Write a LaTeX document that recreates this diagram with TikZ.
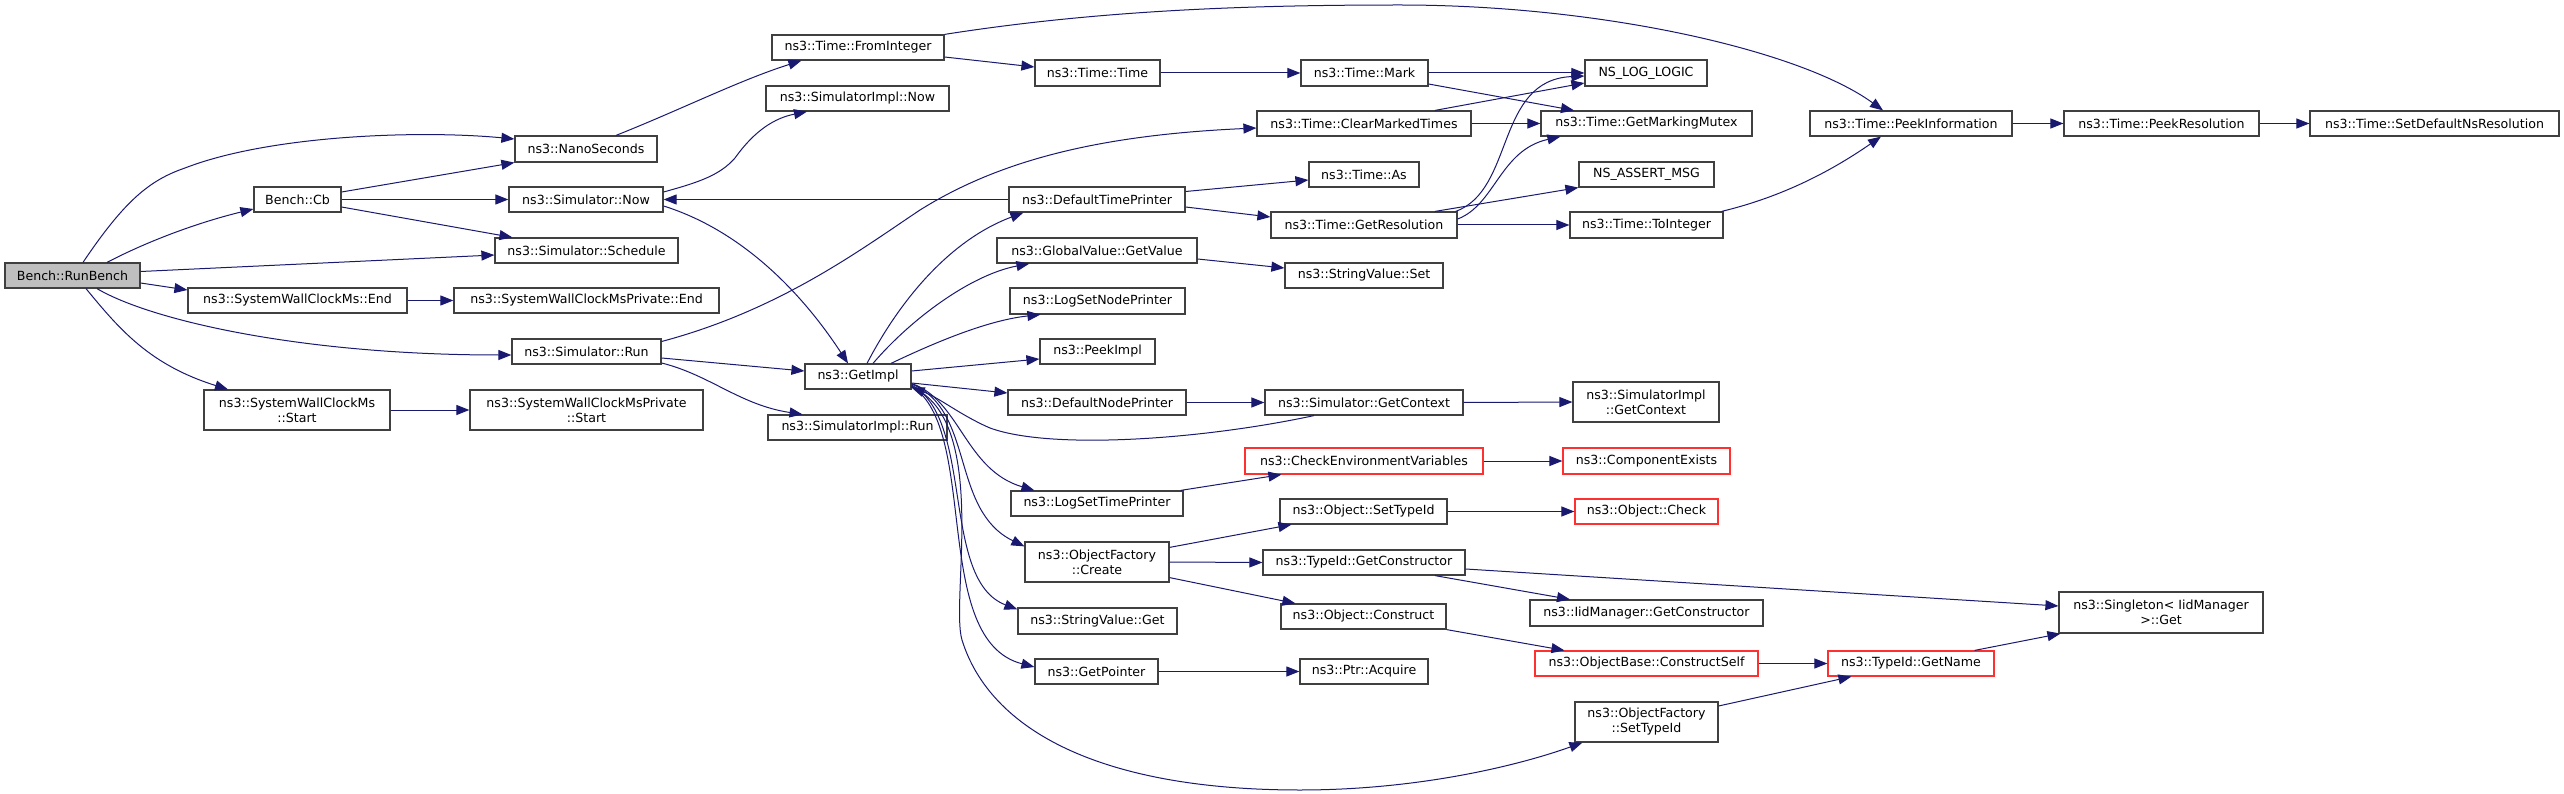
\documentclass[tikz,border=0pt]{standalone}
\usepackage{fontspec}
\setmainfont{DejaVu Sans}
\usetikzlibrary{arrows.meta}
\definecolor{edgec}{HTML}{191970}
\definecolor{nborder}{HTML}{404040}
\definecolor{nred}{HTML}{FF3030}
\definecolor{rootfill}{HTML}{BFBFBF}
\newcommand\nfnt{\fontsize{12.6}{15}\selectfont}
\tikzset{
  fn/.style={draw=nborder, line width=1.2pt, fill=white, inner sep=0pt, minimum height=25pt, font=\nfnt, align=center},
  fnred/.style={fn, draw=nred},
  fnroot/.style={fn, fill=rootfill},
  e/.style={draw=edgec, line width=1pt, -{Triangle[length=13pt,width=10pt]}}
}
\begin{document}
\begin{tikzpicture}[x=1pt,y=-1pt]
\useasboundingbox (0,0) rectangle (2564,794);
% column 1-3
\node[fnroot, minimum width=135pt] (runbench) at (72.5,275.5) {Bench::RunBench};
\node[fn, minimum width=142pt, minimum height=26pt] (nano) at (586,149) {ns3::NanoSeconds};
\node[fn, minimum width=87pt] (cb) at (297.5,199.5) {Bench::Cb};
\node[fn, minimum width=154pt] (simnow) at (586,199.5) {ns3::Simulator::Now};
\node[fn, minimum width=183pt] (schedule) at (586.5,250.5) {ns3::Simulator::Schedule};
\node[fn, minimum width=219pt] (swcend) at (297.5,300.5) {ns3::SystemWallClockMs::End};
\node[fn, minimum width=265pt] (swcpend) at (586.5,300.5) {ns3::SystemWallClockMsPrivate::End};
\node[fn, minimum width=149pt] (simrun) at (586.5,351.5) {ns3::Simulator::Run};
\node[fn, minimum width=186pt, minimum height=40pt] (swcstart) at (297,410) {ns3::SystemWallClockMs\\::Start};
\node[fn, minimum width=233pt, minimum height=40pt] (swcpstart) at (586.5,410) {ns3::SystemWallClockMsPrivate\\::Start};
% column 4
\node[fn, minimum width=172pt] (fromint) at (858,47.5) {ns3::Time::FromInteger};
\node[fn, minimum width=183pt] (simimplnow) at (857.5,98.5) {ns3::SimulatorImpl::Now};
\node[fn, minimum width=106pt] (getimpl) at (858,376.5) {ns3::GetImpl};
\node[fn, minimum width=179pt] (simimplrun) at (857.5,427.5) {ns3::SimulatorImpl::Run};
% column 5
\node[fn, minimum width=125pt, minimum height=26pt] (timetime) at (1097.5,73) {ns3::Time::Time};
\node[fn, minimum width=176pt] (dtp) at (1097,199.5) {ns3::DefaultTimePrinter};
\node[fn, minimum width=200pt] (gvgetvalue) at (1097,250.5) {ns3::GlobalValue::GetValue};
\node[fn, minimum width=175pt, minimum height=26pt] (lsnp) at (1097.5,301) {ns3::LogSetNodePrinter};
\node[fn, minimum width=115pt] (peekimpl) at (1097.5,351.5) {ns3::PeekImpl};
\node[fn, minimum width=178pt] (dnp) at (1097,402.5) {ns3::DefaultNodePrinter};
\node[fn, minimum width=172pt] (lstp) at (1097,503.5) {ns3::LogSetTimePrinter};
\node[fn, minimum width=144pt, minimum height=40pt] (ofcreate) at (1097,562) {ns3::ObjectFactory\\::Create};
\node[fn, minimum width=159pt, minimum height=26pt] (svget) at (1097.5,621) {ns3::StringValue::Get};
\node[fn, minimum width=123pt] (getpointer) at (1096.5,671.5) {ns3::GetPointer};
% column 6
\node[fn, minimum width=127pt, minimum height=26pt] (mark) at (1364.5,73) {ns3::Time::Mark};
\node[fn, minimum width=214pt] (clearmarked) at (1364,123.5) {ns3::Time::ClearMarkedTimes};
\node[fn, minimum width=110pt] (timeas) at (1364,174.5) {ns3::Time::As};
\node[fn, minimum width=186pt, minimum height=26pt] (getres) at (1364,225) {ns3::Time::GetResolution};
\node[fn, minimum width=158pt] (svset) at (1364,275.5) {ns3::StringValue::Set};
\node[fn, minimum width=198pt] (simgetctx) at (1364,402.5) {ns3::Simulator::GetContext};
\node[fnred, minimum width=238pt, minimum height=26pt] (checkenv) at (1364,461) {ns3::CheckEnvironmentVariables};
\node[fn, minimum width=167pt] (objsettypeid) at (1363.5,511.5) {ns3::Object::SetTypeId};
\node[fn, minimum width=202pt] (getctor) at (1364,562.5) {ns3::TypeId::GetConstructor};
\node[fn, minimum width=165pt] (objconstruct) at (1363.5,616.5) {ns3::Object::Construct};
\node[fn, minimum width=128pt] (acquire) at (1364,671.5) {ns3::Ptr::Acquire};
% column 7
\node[fn, minimum width=122pt, minimum height=26pt] (nslog) at (1646,73) {NS\_LOG\_LOGIC};
\node[fn, minimum width=211pt] (markmutex) at (1646.5,123.5) {ns3::Time::GetMarkingMutex};
\node[fn, minimum width=135pt] (nsassert) at (1646.5,174.5) {NS\_ASSERT\_MSG};
\node[fn, minimum width=153pt, minimum height=26pt] (tointeger) at (1646.5,225) {ns3::Time::ToInteger};
\node[fn, minimum width=146pt, minimum height=40pt] (simimplgetctx) at (1646,402) {ns3::SimulatorImpl\\::GetContext};
\node[fnred, minimum width=167pt, minimum height=26pt] (compexists) at (1646.5,461) {ns3::ComponentExists};
\node[fnred, minimum width=143pt] (objcheck) at (1646.5,511.5) {ns3::Object::Check};
\node[fn, minimum width=233pt, minimum height=26pt] (iidgetctor) at (1646.5,613) {ns3::IidManager::GetConstructor};
\node[fnred, minimum width=223pt] (constructself) at (1646.5,663.5) {ns3::ObjectBase::ConstructSelf};
\node[fn, minimum width=143pt, minimum height=40pt] (ofsettypeid) at (1646.5,722) {ns3::ObjectFactory\\::SetTypeId};
% column 8-10
\node[fn, minimum width=202pt] (peekinfo) at (1911,123.5) {ns3::Time::PeekInformation};
\node[fnred, minimum width=166pt] (getname) at (1911,663.5) {ns3::TypeId::GetName};
\node[fn, minimum width=195pt] (peekres) at (2161.5,123.5) {ns3::Time::PeekResolution};
\node[fn, minimum width=204pt, minimum height=41pt] (singleton) at (2161,612.5) {ns3::Singleton< IidManager\\ >::Get};
\node[fn, minimum width=249pt] (setdefault) at (2434.5,123.5) {ns3::Time::SetDefaultNsResolution};

% edges from RunBench
\draw[e] ([shift={(10.5,0)}]runbench.north) .. controls (125,200) and (150,180) .. (185,168) .. controls (270,135) and (420,130) .. ([shift={(0,-10)}]nano.west);
\draw[e] ([shift={(34.5,0)}]runbench.north) .. controls (150,240) and (200,222) .. ([shift={(0,9.5)}]cb.west);
\draw[e] ([shift={(0,-4)}]runbench.east) -- ([shift={(0,4.5)}]schedule.west);
\draw[e] ([shift={(0,7.5)}]runbench.east) -- ([shift={(0,-10.5)}]swcend.west);
\draw[e] ([shift={(24.5,0)}]runbench.south) .. controls (150,320) and (300,355) .. ([shift={(0,3.5)}]simrun.west);
\draw[e] ([shift={(13.5,0)}]runbench.south) .. controls (120,330) and (150,365) .. ([shift={(-69,0)}]swcstart.north);
% Bench::Cb
\draw[e] ([shift={(0,-7.5)}]cb.east) -- (nano.south west);
\draw[e] (cb.east) -- (simnow.west);
\draw[e] ([shift={(0,7.5)}]cb.east) -- ([shift={(18,0)}]schedule.north west);
\draw[e] (swcend.east) -- (swcpend.west);
\draw[e] (swcstart.east) -- (swcpstart.west);
% NanoSeconds / FromInteger
\draw[e] ([shift={(30,0)}]nano.north) .. controls (680,110) and (740,80) .. ([shift={(30,0)}]fromint.south west);
\draw[e] (fromint.north east) .. controls (1100,10) and (1250,5) .. (1400,5) .. controls (1600,5) and (1800,50) .. ([shift={(-28,0)}]peekinfo.north);
\draw[e] ([shift={(0,9.5)}]fromint.east) -- ([shift={(0,-6)}]timetime.west);
\draw[e] (timetime.east) -- (mark.west);
\draw[e] (mark.east) -- (nslog.west);
\draw[e] ([shift={(0,11)}]mark.east) -- ([shift={(-72.5,0)}]markmutex.north);
\draw[e] ([shift={(71,0)}]clearmarked.north) -- ([shift={(0,10)}]nslog.west);
\draw[e] (clearmarked.east) -- (markmutex.west);
% GetResolution
\draw[e] ([shift={(-2,0)}]getres.north east) .. controls (1515,190) and (1495,80) .. ([shift={(0,3)}]nslog.west);
\draw[e] ([shift={(0,-6)}]getres.east) .. controls (1495,205) and (1500,150) .. ([shift={(20,0)}]markmutex.south west);
\draw[e] ([shift={(71,0)}]getres.north) -- (nsassert.south west);
\draw[e] (getres.east) -- (tointeger.west);
\draw[e] ([shift={(-2,0)}]tointeger.north east) .. controls (1790,195) and (1840,165) .. ([shift={(-30,0)}]peekinfo.south);
\draw[e] (peekinfo.east) -- (peekres.west);
\draw[e] (peekres.east) -- (setdefault.west);
% DefaultTimePrinter
\draw[e] (dtp.west) -- (simnow.east);
\draw[e] ([shift={(0,-8)}]dtp.east) -- ([shift={(0,5.5)}]timeas.west);
\draw[e] ([shift={(0,7.5)}]dtp.east) -- ([shift={(0,-8)}]getres.west);
% Simulator::Run
\draw[e] ([shift={(0,-10)}]simrun.east) .. controls (780,310) and (860,250) .. (920,210) .. controls (1000,160) and (1100,135) .. ([shift={(0,4.5)}]clearmarked.west);
\draw[e] ([shift={(0,6.5)}]simrun.east) -- ([shift={(0,-5.5)}]getimpl.west);
\draw[e] ([shift={(0,11.5)}]simrun.east) .. controls (710,375) and (740,405) .. ([shift={(-55,0)}]simimplrun.north);
% Simulator::Now
\draw[e] ([shift={(0,-7.5)}]simnow.east) .. controls (700,182) and (720,175) .. (735,158) .. controls (755,130) and (775,118) .. ([shift={(-50.5,0)}]simimplnow.south);
\draw[e] ([shift={(0,6.5)}]simnow.east) .. controls (740,230) and (800,290) .. ([shift={(-10,0)}]getimpl.north);
% GetImpl
\draw[e] ([shift={(9,0)}]getimpl.north) .. controls (900,300) and (950,240) .. ([shift={(15,0)}]dtp.south west);
\draw[e] ([shift={(15,0)}]getimpl.north) .. controls (910,320) and (970,275) .. ([shift={(33,0)}]gvgetvalue.south west);
\draw[e] ([shift={(33,0)}]getimpl.north) .. controls (940,340) and (990,320) .. ([shift={(31,0)}]lsnp.south west);
\draw[e] ([shift={(0,-5.5)}]getimpl.east) -- ([shift={(0,7.5)}]peekimpl.west);
\draw[e] ([shift={(0,6.5)}]getimpl.east) -- ([shift={(0,-9.5)}]dnp.west);
\draw[e] ([shift={(0,7)}]getimpl.east) .. controls (960,400) and (965,470) .. ([shift={(24,0)}]lstp.north west);
\draw[e] ([shift={(0,7.5)}]getimpl.east) .. controls (975,410) and (950,510) .. ([shift={(0,5)}]ofcreate.north west);
\draw[e] ([shift={(0,8.5)}]getimpl.east) .. controls (975,420) and (940,580) .. ([shift={(0,2)}]svget.north west);
\draw[e] ([shift={(0,9.5)}]getimpl.east) .. controls (980,430) and (930,640) .. ([shift={(0,-4.5)}]getpointer.west);
\draw[e] ([shift={(0,10.5)}]getimpl.east) .. controls (990,420) and (950,600) .. (962,640) .. controls (990,730) and (1100,790) .. (1300,790) .. controls (1420,790) and (1520,765) .. ([shift={(8,0)}]ofsettypeid.south west);
\draw[e] (dnp.east) -- (simgetctx.west);
\draw[e] ([shift={(-50,0)}]simgetctx.south) .. controls (1200,440) and (1050,450) .. (990,428) .. controls (960,415) and (940,398) .. ([shift={(0,-2)}]getimpl.south east);
\draw[e] (simgetctx.east) -- (simimplgetctx.west);
\draw[e] ([shift={(0,8.5)}]gvgetvalue.east) -- ([shift={(0,-7.5)}]svset.west);
% lower part
\draw[e] ([shift={(-3,0)}]lstp.north east) -- ([shift={(37,0)}]checkenv.south west);
\draw[e] (checkenv.east) -- (compexists.west);
\draw[e] ([shift={(0,6)}]ofcreate.north east) -- ([shift={(12,0)}]objsettypeid.south west);
\draw[e] (ofcreate.east) -- (getctor.west);
\draw[e] ([shift={(0,-5)}]ofcreate.south east) -- ([shift={(15,0)}]objconstruct.north west);
\draw[e] (objsettypeid.east) -- (objcheck.west);
\draw[e] ([shift={(71,0)}]getctor.south) -- ([shift={(-76.5,0)}]iidgetctor.north);
\draw[e] ([shift={(0,6.5)}]getctor.east) -- ([shift={(0,-6.5)}]singleton.west);
\draw[e] (objconstruct.south east) -- ([shift={(30,0)}]constructself.north west);
\draw[e] (constructself.east) -- (getname.west);
\draw[e] ([shift={(0,-16)}]ofsettypeid.east) -- ([shift={(24,0)}]getname.south west);
\draw[e] ([shift={(-20,0)}]getname.north east) -- ([shift={(2,0)}]singleton.south west);
\draw[e] (getpointer.east) -- (acquire.west);
\end{tikzpicture}
\end{document}
